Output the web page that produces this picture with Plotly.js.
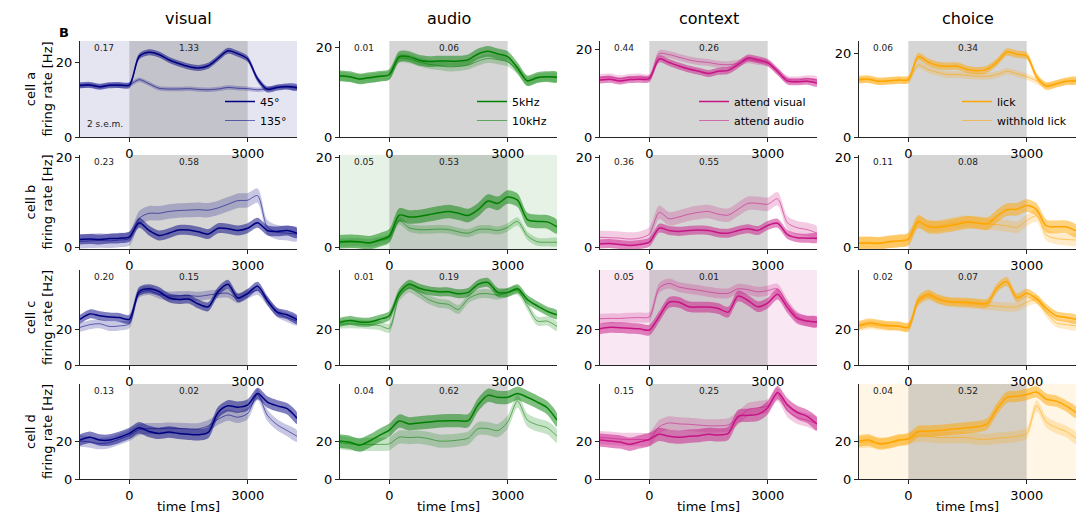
<!DOCTYPE html>
<html><head><meta charset="utf-8">
<script src="https://cdn.plot.ly/plotly-3.0.1.min.js"></script>
<style>html,body{margin:0;padding:0;background:#fff}#chart{width:1077px;height:517px}</style>
</head><body><div id="chart"></div>
<script>
// ---------- data ----------
const times = [-1250,-1000,-750,-500,-250,0,250,500,750,1000,1250,1500,1750,2000,2250,2500,2750,3000,3250,3500,3750,4000,4250];
const columnTitles = ['visual','audio','context','choice'];
const cellLabels = ['cell a','cell b','cell c','cell d'];
const legendNames = [['45°','135°'],['5kHz','10kHz'],['attend visual','attend audio'],['lick','withhold lick']];
const xTicks = [0, 3000];
const yTicks = [0, 20];

// cell a
const a_visual_45 = [13.8,13.9,13.4,13.8,13.9,13.8,21.5,22.6,22.0,20.6,19.6,18.8,18.4,19.0,21.0,23.0,22.2,20.8,15.5,12.7,13.2,13.5,13.2];
const a_visual_135 = [13.6,13.8,13.4,13.8,13.7,13.9,15.3,14.2,13.0,12.8,12.8,12.9,12.7,12.6,12.8,13.2,13.0,12.9,12.6,12.9,13.3,13.3,13.0];
const a_audio_5k = [13.7,13.5,13.0,13.3,13.6,14.0,18.0,18.0,17.2,16.9,17.0,17.0,17.0,17.3,18.6,19.2,18.6,18.0,15.5,12.6,13.3,13.5,13.4];
const a_audio_10k = [13.6,13.4,13.0,13.2,13.5,13.9,17.6,17.5,16.8,16.3,16.0,15.7,15.8,16.1,17.0,17.6,17.3,16.8,15.0,12.5,13.2,13.5,13.3];
const a_context_vis = [13.0,13.2,12.8,13.1,13.2,13.3,17.8,17.0,16.2,15.5,15.0,14.5,15.0,15.2,16.5,18.0,17.6,17.0,15.0,12.8,12.6,12.7,12.3];
const a_context_aud = [13.6,13.7,13.3,13.6,13.7,13.6,19.0,18.8,18.2,17.6,17.2,17.0,16.6,16.5,16.8,17.6,17.2,16.8,14.8,13.2,13.0,13.3,13.0];
const a_choice_lick = [13.8,13.9,13.4,13.5,13.7,13.8,19.3,18.0,17.2,17.0,17.0,16.2,15.9,16.3,18.0,20.4,19.9,19.5,14.5,12.2,12.8,13.4,13.6];
const a_choice_withhold = [13.6,13.8,13.3,13.5,13.6,13.7,17.3,16.2,15.5,15.0,15.0,14.8,14.6,14.6,15.0,15.8,15.2,14.5,13.5,12.5,12.8,13.3,13.4];
// cell b
const b_visual_45 = [1.8,1.9,1.8,2.0,2.1,2.4,5.5,3.8,2.7,3.2,3.9,3.9,3.5,3.0,4.3,4.2,3.8,4.3,5.5,3.8,3.6,3.8,3.2];
const b_visual_135 = [1.4,1.5,1.6,1.5,1.7,2.0,6.5,7.6,7.6,8.0,8.2,8.3,8.4,8.3,8.8,9.6,10.4,10.5,11.5,4.5,3.4,3.2,3.0];
const b_audio_5k = [1.3,1.4,1.3,1.1,1.7,2.6,7.2,6.8,6.9,7.3,7.7,8.0,7.6,7.1,8.4,10.3,9.8,11.2,10.5,6.2,5.8,5.7,4.6];
const b_audio_10k = [1.1,1.2,1.2,1.0,1.5,2.2,6.0,4.4,4.0,4.0,4.1,4.0,3.5,3.2,4.0,4.1,3.8,4.5,5.8,2.6,1.3,1.2,1.2];
const b_context_vis = [0.8,0.9,0.7,0.5,0.7,1.2,4.3,3.8,3.6,3.8,3.9,3.8,3.3,3.2,3.8,4.2,3.8,4.9,5.4,2.9,2.2,2.1,2.1];
const b_context_aud = [2.3,2.2,2.1,1.9,2.1,3.0,7.8,6.4,6.8,7.4,7.8,8.0,7.4,7.2,8.5,9.8,9.8,9.6,10.8,5.5,4.4,4.0,3.2];
const b_choice_lick = [1.0,1.0,0.9,1.3,1.5,1.9,5.8,4.6,4.5,4.8,5.2,5.6,5.5,5.3,7.0,8.4,8.5,9.3,8.4,4.8,4.6,4.6,3.7];
const b_choice_withhold = [1.1,1.2,1.1,1.2,1.4,1.7,5.5,4.9,4.8,5.2,5.6,5.8,5.4,5.2,5.1,4.8,4.5,6.0,7.0,2.8,2.0,1.8,1.7];
// cell c
const c_visual_45 = [25.5,28.5,27.5,26.8,26.5,25.5,41.0,42.5,41.0,37.5,36.5,36.8,34.0,32.5,41.0,45.0,37.5,40.0,44.0,36.0,29.5,28.0,25.3];
const c_visual_135 = [21.0,22.5,23.0,21.5,21.8,23.0,40.0,41.5,39.5,38.5,38.6,38.8,38.3,39.0,39.8,40.0,37.0,39.5,41.5,35.5,29.0,26.5,24.5];
const c_audio_5k = [23.8,24.8,24.0,24.0,25.5,27.5,40.0,45.0,43.0,41.5,40.8,40.8,39.8,40.5,45.0,46.0,40.5,40.5,42.5,36.5,33.0,30.0,28.0];
const c_audio_10k = [22.8,23.0,22.8,22.5,22.0,20.5,38.0,43.0,40.0,36.5,34.5,33.8,31.0,37.0,39.5,39.8,39.0,40.5,41.5,33.0,24.5,24.5,21.5];
const c_context_vis = [20.2,21.0,20.8,20.5,20.2,19.5,27.0,35.0,35.0,32.5,32.3,32.3,31.5,29.5,38.5,36.0,32.5,34.5,39.5,32.0,26.0,24.5,24.0];
const c_context_aud = [25.8,26.0,26.0,26.3,26.5,26.8,43.0,45.5,43.5,42.5,41.7,40.8,40.0,40.0,42.5,42.0,40.8,41.5,42.5,34.0,27.0,24.5,24.0];
const c_choice_lick = [22.0,23.5,22.8,22.0,21.8,21.0,36.0,39.5,37.0,35.5,35.2,35.0,34.5,34.5,43.0,46.5,37.5,40.0,37.0,31.5,27.5,26.5,25.5];
const c_choice_withhold = [21.5,22.5,22.0,21.5,21.5,21.5,35.0,38.5,36.5,35.0,34.6,34.2,33.8,33.3,32.8,32.3,32.5,35.0,36.5,29.0,23.5,22.5,21.8];
// cell d
const d_visual_45 = [20.5,22.0,20.5,20.5,22.0,24.0,27.0,25.0,24.0,24.7,24.0,23.5,23.3,24.5,35.0,38.5,37.8,39.0,45.0,40.5,38.5,37.0,32.0];
const d_visual_135 = [20.0,19.5,18.6,19.2,21.0,23.0,26.0,26.5,26.5,26.8,26.6,26.4,26.4,28.0,31.5,33.7,32.5,34.5,44.5,33.5,28.5,25.5,22.5];
const d_audio_5k = [20.0,19.3,17.8,20.0,23.0,25.7,30.5,29.0,29.5,30.0,30.5,30.7,30.7,30.7,39.0,44.0,43.0,43.0,45.0,43.0,40.5,37.5,31.0];
const d_audio_10k = [19.2,18.5,18.2,18.2,18.2,18.5,22.0,21.8,22.0,21.2,20.0,20.0,20.5,21.5,26.5,26.5,25.5,30.0,41.0,31.0,28.5,27.0,22.5];
const d_context_vis = [20.5,20.0,19.5,18.3,19.5,20.8,23.5,22.5,22.0,22.5,22.8,23.5,23.2,24.0,33.0,33.5,34.0,37.5,45.5,39.0,35.0,33.0,29.0];
const d_context_aud = [21.8,21.5,21.0,20.8,20.8,21.0,27.5,29.5,29.0,28.8,28.4,28.0,28.0,28.5,32.0,36.5,37.5,38.5,44.5,36.0,32.5,31.0,29.0];
const d_choice_lick = [20.0,20.5,18.5,19.0,20.5,21.0,25.0,25.2,25.5,26.0,26.5,27.0,27.5,29.0,37.0,43.0,43.5,44.5,45.8,42.0,41.0,38.5,35.0];
const d_choice_withhold = [19.2,19.5,19.0,19.0,20.0,21.5,22.5,22.5,21.8,21.8,21.8,21.8,21.0,20.8,21.5,21.8,22.5,24.0,38.5,30.0,27.0,25.0,21.5];

// s.e.m. (Hz) per panel: [first condition, second condition]
const semA = [[0.8,0.6],[1.2,1.0],[0.8,0.8],[0.9,0.8]];
const semB = [[1.1,1.6],[1.5,0.9],[1.0,1.5],[1.4,1.3]];
const semC = [[2.5,2.5],[2.5,2.5],[3.0,2.8],[2.5,2.5]];
const semD = [[3.0,3.0],[3.5,3.5],[3.5,3.5],[3.0,3.0]];

// numbers printed in each panel: [pre-stimulus, stimulus]
const labelsA = [['0.17','1.33'],['0.01','0.06'],['0.44','0.26'],['0.06','0.34']];
const labelsB = [['0.23','0.58'],['0.05','0.53'],['0.36','0.55'],['0.11','0.08']];
const labelsC = [['0.20','0.15'],['0.01','0.19'],['0.05','0.01'],['0.02','0.07']];
const labelsD = [['0.13','0.02'],['0.04','0.62'],['0.15','0.25'],['0.04','0.52']];

// panel with tinted background in each row (column index)
const tintedColumn = [0, 1, 2, 3];

// ---------- assembly ----------
const seriesGrid = [
  [[a_visual_45,a_visual_135],[a_audio_5k,a_audio_10k],[a_context_vis,a_context_aud],[a_choice_lick,a_choice_withhold]],
  [[b_visual_45,b_visual_135],[b_audio_5k,b_audio_10k],[b_context_vis,b_context_aud],[b_choice_lick,b_choice_withhold]],
  [[c_visual_45,c_visual_135],[c_audio_5k,c_audio_10k],[c_context_vis,c_context_aud],[c_choice_lick,c_choice_withhold]],
  [[d_visual_45,d_visual_135],[d_audio_5k,d_audio_10k],[d_context_vis,d_context_aud],[d_choice_lick,d_choice_withhold]]
];
const semGrid = [semA, semB, semC, semD];
const labelGrid = [labelsA, labelsB, labelsC, labelsD];

const colors = ['0,0,128','0,128,0','199,21,133','255,165,0'];
const W = 1077, H = 517;
const colPx = [[80,297],[340,557],[600,817],[859,1076]];
const rowPx = [[41,137],[155,249],[270,365],[384,479]];
const yRanges = [
  [[0,25.6],[0,21.5],[0,21.9],[0,23.06]],
  [[-0.3,20.5],[-0.3,20.5],[-0.3,20.5],[-0.3,20.5]],
  [[0,53],[0,53],[0,53],[0,53]],
  [[0,50],[0,50],[0,50],[0,50]]
];
const legendLineStart = [228, 480, 702, 965];
const FONT = 'DejaVu Sans, sans-serif';
const axisColor = '#262626';

const traces = [];
const layout = {
  width: W, height: H,
  margin: {l:0, r:0, t:0, b:0},
  paper_bgcolor: '#ffffff', plot_bgcolor: 'rgba(0,0,0,0)',
  font: {family: FONT, size: 13, color: '#000'},
  showlegend: true,
  shapes: [], annotations: []
};

for (let r = 0; r < 4; r++) {
  for (let c = 0; c < 4; c++) {
    const k = r*4 + c + 1;
    const sx = k === 1 ? '' : String(k);
    const xa = 'x' + sx, ya = 'y' + sx;
    const [x0, x1] = colPx[c], [y0, y1] = rowPx[r];
    layout['xaxis' + sx] = {
      domain: [x0/W, x1/W], range: [times[0], times[times.length-1]], anchor: ya,
      tickvals: xTicks, ticktext: xTicks.map(String),
      showline: true, linecolor: axisColor, linewidth: 1,
      ticks: 'outside', ticklen: 4, tickcolor: axisColor,
      showgrid: false, zeroline: false, tickfont: {size: 13, family: FONT},
      fixedrange: true
    };
    if (r === 3) layout['xaxis' + sx].title = {text: 'time [ms]', font: {size: 13, family: FONT}, standoff: 0};
    layout['yaxis' + sx] = {
      domain: [1 - y1/H, 1 - y0/H], range: yRanges[r][c], anchor: xa,
      tickvals: yTicks, ticktext: yTicks.map(String),
      showline: true, linecolor: axisColor, linewidth: 1,
      ticks: 'outside', ticklen: 4, tickcolor: axisColor,
      showgrid: false, zeroline: false, tickfont: {size: 13, family: FONT},
      fixedrange: true
    };
    if (c === 0) layout['yaxis' + sx].title = {text: cellLabels[r] + '<br>firing rate [Hz]', font: {size: 13, family: FONT}, standoff: 0};

    const col = colors[c];
    // tinted background for the selective panel
    if (tintedColumn[r] === c) {
      layout.shapes.push({type:'rect', xref: xa + ' domain', yref: ya + ' domain', x0:0, x1:1, y0:0, y1:1,
        fillcolor: 'rgba(' + col + ',0.1)', line: {width: 0}, layer: 'below'});
    }
    // stimulus period
    layout.shapes.push({type:'rect', xref: xa, yref: ya + ' domain', x0: 0, x1: 3000, y0: 0, y1: 1,
      fillcolor: 'rgba(128,128,128,0.33)', line: {width: 0}, layer: 'below'});

    const legendId = c === 0 ? 'legend' : 'legend' + (c+1);
    const pair = seriesGrid[r][c];
    const sems = semGrid[r][c];
    const bandAlpha = [0.5, 0.22];
    const lineColor = ['rgb(' + col + ')', 'rgba(' + col + ',0.55)'];
    const lineWidth = [1.5, 1];
    // draw second condition first, then the first condition on top
    [1, 0].forEach(i => {
      const m = pair[i], s = sems[i];
      const up = m.map(v => v + s), lo = m.map(v => v - s);
      traces.push({
        type: 'scatter', mode: 'lines', xaxis: xa, yaxis: ya,
        x: times.concat(times.slice().reverse()),
        y: up.concat(lo.slice().reverse()),
        fill: 'toself', fillcolor: 'rgba(' + col + ',' + bandAlpha[i] + ')',
        line: {width: 0, shape: 'spline', smoothing: 0.8},
        hoverinfo: 'skip', showlegend: false
      });
    });
    [1, 0].forEach(i => {
      traces.push({
        type: 'scatter', mode: 'lines', xaxis: xa, yaxis: ya,
        x: times, y: pair[i], name: legendNames[c][i],
        line: {color: lineColor[i], width: lineWidth[i], shape: 'spline', smoothing: 0.8},
        legend: legendId, legendrank: i + 1,
        showlegend: r === 0
      });
    });

    // numbers
    const lab = labelGrid[r][c];
    layout.annotations.push({xref: xa, yref: ya + ' domain', x: -650, y: 0.93, text: lab[0], showarrow: false,
      font: {size: 9, family: FONT, color: '#222'}, xanchor: 'center', yanchor: 'middle'});
    layout.annotations.push({xref: xa, yref: ya + ' domain', x: 1500, y: 0.93, text: lab[1], showarrow: false,
      font: {size: 9, family: FONT, color: '#222'}, xanchor: 'center', yanchor: 'middle'});

    if (r === 0) {
      layout[legendId] = {
        x: (legendLineStart[c] - 8) / W, y: 1 - 87/H, xanchor: 'left', yanchor: 'top',
        bgcolor: 'rgba(0,0,0,0)', borderwidth: 0, font: {size: 11, family: FONT},
        tracegroupgap: 0, itemwidth: 30
      };
      layout.annotations.push({xref: 'paper', yref: 'paper', x: (x0 + x1) / 2 / W, y: 1 - 18/H,
        text: columnTitles[c], showarrow: false, font: {size: 16, family: FONT}, xanchor: 'center', yanchor: 'middle'});
    }
  }
}
layout.annotations.push({xref: 'x', yref: 'y domain', x: -1130, y: 0.14, text: '2 s.e.m.', showarrow: false,
  font: {size: 9, family: FONT, color: '#222'}, xanchor: 'left', yanchor: 'middle'});
layout.annotations.push({xref: 'paper', yref: 'paper', x: 57/W, y: 1 - 32/H, text: '<b>B</b>', showarrow: false,
  font: {size: 13, family: FONT}, xanchor: 'left', yanchor: 'middle'});

Plotly.newPlot('chart', traces, layout, {displayModeBar: false, staticPlot: true});
</script></body></html>
